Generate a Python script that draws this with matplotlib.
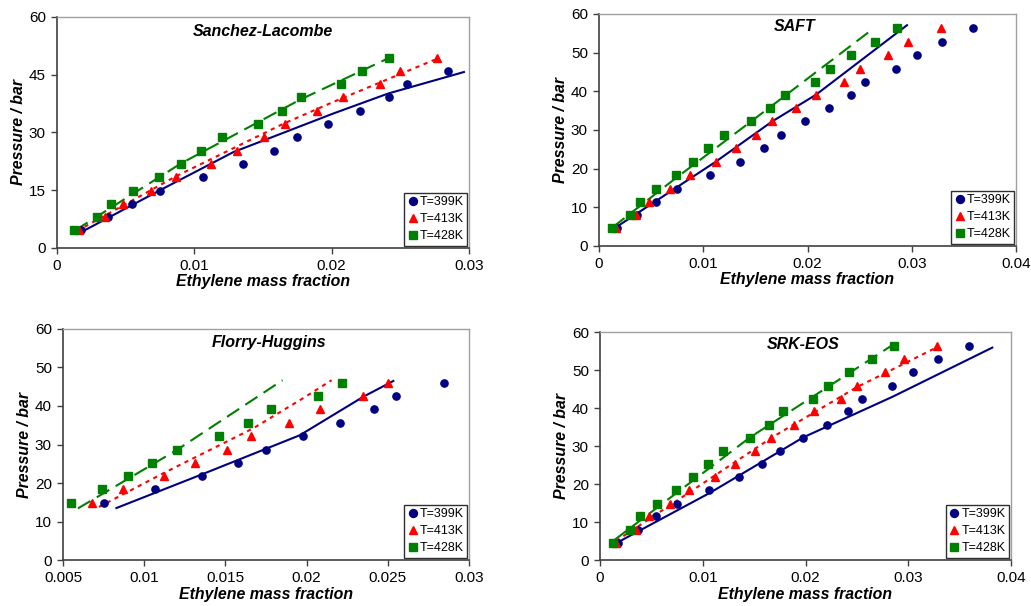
import matplotlib
matplotlib.use("Agg")
import matplotlib.pyplot as plt

plt.rcParams['font.family'] = ['Liberation Sans', 'DejaVu Sans']

# Experimental data (shared across panels)
P_exp = [4.6, 8.0, 11.5, 14.8, 18.4, 21.8, 25.3, 28.7, 32.2, 35.6, 39.1, 42.5, 45.9, 49.4, 52.8, 56.3]
w_399 = [0.00176, 0.00368, 0.00547, 0.00751, 0.01065, 0.01356, 0.0158, 0.0175,
         0.01976, 0.02206, 0.02417, 0.02548, 0.02846, 0.03047, 0.03293, 0.03588]
w_413 = [0.0016, 0.00352, 0.0048, 0.00681, 0.0087, 0.0112, 0.0131, 0.0151,
         0.0166, 0.0189, 0.0208, 0.0235, 0.0250, 0.0277, 0.0296, 0.0328]
w_428 = [0.00125, 0.00294, 0.00393, 0.0055, 0.00742, 0.0090, 0.0105, 0.0120,
         0.0146, 0.0164, 0.0178, 0.0207, 0.0222, 0.0242, 0.0265, 0.0286]

# Model curves
sl_399_x = [0.0017, 0.0075, 0.01284, 0.0201, 0.0241, 0.02963]
sl_399_y = [4.0, 15.0, 24.9, 34.9, 40.1, 45.7]
sl_413_x = [0.00145, 0.0087, 0.0165, 0.0201, 0.0275]
sl_413_y = [4.4, 18.7, 32.3, 37.9, 48.9]
sl_428_x = [0.00133, 0.009, 0.01769, 0.0242]
sl_428_y = [4.6, 21.9, 38.5, 49.4]

saft_399_x = [0.00166, 0.0112, 0.0166, 0.0208, 0.02954]
saft_399_y = [4.9, 21.8, 32.2, 39.1, 57.1]
saft_428_x = [0.00134, 0.0071, 0.0164, 0.0263]
saft_428_y = [4.9, 17.0, 35.9, 56.2]

fh_399_x = [0.00829, 0.01359, 0.01958, 0.02349, 0.02534]
fh_399_y = [13.5, 22.3, 32.4, 42.4, 46.5]
fh_413_x = [0.00722, 0.01116, 0.01671, 0.01958, 0.02154]
fh_413_y = [13.8, 22.5, 34.2, 41.5, 46.7]
fh_428_x = [0.00592, 0.01198, 0.01852]
fh_428_y = [13.4, 28.5, 46.7]

srk_399_x = [0.00179, 0.01071, 0.0198, 0.0285, 0.03818]
srk_399_y = [4.75, 17.7, 32.3, 43.0, 55.9]
srk_413_x = [0.00156, 0.01688, 0.025, 0.03295]
srk_413_y = [5.0, 32.5, 45.5, 56.2]
srk_428_x = [0.00146, 0.01461, 0.02825]
srk_428_y = [5.4, 32.3, 56.2]

labels = ['T=399K', 'T=413K', 'T=428K']
c_blue, c_red, c_green = '#000080', '#FF0000', '#008000'

fig = plt.figure(figsize=(10.31, 6.06), dpi=100)

panels = [
    dict(pos=[0.0553, 0.5908, 0.3996, 0.3812], title='Sanchez-Lacombe', tpos=(0.5, 0.935),
         xlim=(0, 0.03), xticks=[0, 0.01, 0.02, 0.03], xtl=['0', '0.01', '0.02', '0.03'],
         yticks=[0, 15, 30, 45, 60], exp=(slice(0, 13), slice(0, 14), slice(0, 14)),
         lines=[(sl_399_x, sl_399_y, c_blue, '-'), (sl_413_x, sl_413_y, c_red, ':'),
                (sl_428_x, sl_428_y, c_green, '--')]),
    dict(pos=[0.581, 0.5941, 0.4045, 0.3828], title='SAFT', tpos=(0.47, 0.948),
         xlim=(0, 0.04), xticks=[0, 0.01, 0.02, 0.03, 0.04], xtl=['0', '0.01', '0.02', '0.03', '0.04'],
         yticks=[0, 10, 20, 30, 40, 50, 60], exp=(slice(0, 16), slice(0, 16), slice(0, 16)),
         lines=[(saft_399_x, saft_399_y, c_blue, '-'), (saft_428_x, saft_428_y, c_green, '--')]),
    dict(pos=[0.0611, 0.0759, 0.3938, 0.3812], title='Florry-Huggins', tpos=(0.507, 0.94),
         xlim=(0.005, 0.03), xticks=[0.005, 0.01, 0.015, 0.02, 0.025, 0.03],
         xtl=['0.005', '0.01', '0.015', '0.02', '0.025', '0.03'],
         yticks=[0, 10, 20, 30, 40, 50, 60], exp=(slice(3, 13), slice(3, 13), slice(3, 13)),
         lines=[(fh_399_x, fh_399_y, c_blue, '-'), (fh_413_x, fh_413_y, c_red, ':'),
                (fh_428_x, fh_428_y, c_green, '--')]),
    dict(pos=[0.582, 0.0759, 0.3986, 0.3762], title='SRK-EOS', tpos=(0.494, 0.947),
         xlim=(0, 0.04), xticks=[0, 0.01, 0.02, 0.03, 0.04], xtl=['0', '0.01', '0.02', '0.03', '0.04'],
         yticks=[0, 10, 20, 30, 40, 50, 60], exp=(slice(0, 16), slice(0, 16), slice(0, 16)),
         lines=[(srk_399_x, srk_399_y, c_blue, '-'), (srk_413_x, srk_413_y, c_red, ':'),
                (srk_428_x, srk_428_y, c_green, '--')]),
]

for p in panels:
    ax = fig.add_axes(p['pos'])
    for x, y, c, ls in p['lines']:
        kw = {}
        if ls == '--':
            kw['dashes'] = (7, 3.5)
        elif ls == ':':
            kw['dashes'] = (2, 2.2)
        ax.plot(x, y, color=c, lw=1.5, linestyle='-' if ls == '-' else '--', zorder=2, **kw)
    s0, s1, s2 = p['exp']
    ax.plot(w_399[s0], P_exp[s0], 'o', color=c_blue, ms=5.2, mec=c_blue, label=labels[0], zorder=3)
    ax.plot(w_413[s1], P_exp[s1], '^', color=c_red, ms=5.8, mec=c_red, label=labels[1], zorder=3)
    ax.plot(w_428[s2], P_exp[s2], 's', color=c_green, ms=5.6, mec=c_green, label=labels[2], zorder=3)
    ax.set_xlim(*p['xlim'])
    ax.set_ylim(0, 60)
    ax.set_xticks(p['xticks'])
    ax.set_xticklabels(p['xtl'])
    ax.set_yticks(p['yticks'])
    ax.tick_params(direction='out', length=4, width=1, labelsize=11, color='#404040', pad=4)
    for side in ['left', 'bottom']:
        ax.spines[side].set_color('#404040')
        ax.spines[side].set_linewidth(1.2)
    for side in ['top', 'right']:
        ax.spines[side].set_color('#a0a0a0')
        ax.spines[side].set_linewidth(1.0)
    ax.set_xlabel('Ethylene mass fraction', fontsize=11.4, fontweight='bold', style='italic', labelpad=1)
    ax.set_ylabel('Pressure / bar', fontsize=11.4, fontweight='bold', style='italic', labelpad=2)
    ax.text(p['tpos'][0], p['tpos'][1], p['title'], transform=ax.transAxes, ha='center', va='center',
            fontsize=11.5, fontweight='bold', style='italic')
    leg = ax.legend(loc='lower right', fontsize=9, numpoints=1, handlelength=0.7, handletextpad=0.2,
                    borderpad=0.3, labelspacing=0.4, borderaxespad=0.15, fancybox=False,
                    framealpha=1, edgecolor='#303030', markerscale=1.1)
    leg.get_frame().set_linewidth(1.0)

fig.savefig('out.png', dpi=100)
